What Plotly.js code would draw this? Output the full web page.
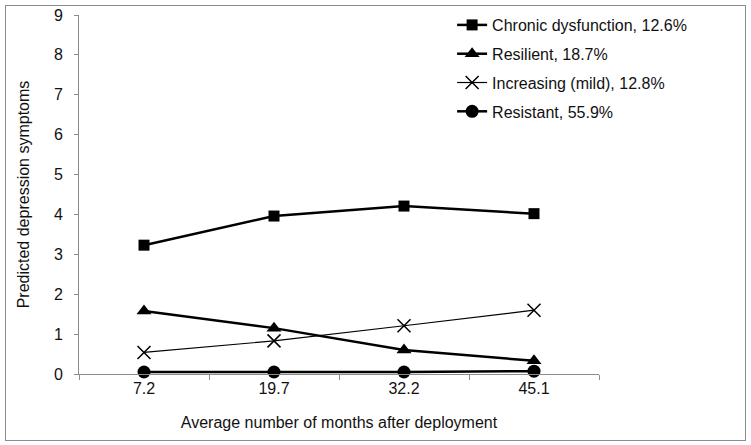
<!DOCTYPE html>
<html>
<head>
<meta charset="utf-8">
<script src="https://cdn.plot.ly/plotly-3.0.1.min.js"></script>
<style>
  body { margin: 0; background: #fff; }
  #frame { position: absolute; left: 5px; top: 5px; width: 739px; height: 434px; border: 1px solid #8c8c8c; pointer-events: none; }
  #myplot { position: absolute; left: 0; top: 0; width: 751px; height: 445px; }
</style>
</head>
<body>
<div id="myplot"></div>
<div id="frame"></div>
<script>
// data
const months = ["7.2", "19.7", "32.2", "45.1"]
const chronic = [3.23, 3.96, 4.21, 4.02]
const resilient = [1.58, 1.15, 0.60, 0.33]
const increasing = [0.54, 0.83, 1.21, 1.60]
const resistant = [0.05, 0.05, 0.05, 0.07]
const seriesNames = ["Chronic dysfunction, 12.6%", "Resilient, 18.7%", "Increasing (mild), 12.8%", "Resistant, 55.9%"]

let fontName = "Liberation Sans, Arial, sans-serif"

function makeTrace(y, name, symbol, size, lineWidth){
    return {
        x: months,
        y: y,
        name: name,
        legendgroup: name,
        mode: "lines+markers",
        type: "scatter",
        line: {color: "#000", width: lineWidth},
        marker: {symbol: symbol, size: size, color: "#000", line: {color: "#000", width: symbol == "x-thin" ? 1.5 : 0}},
        cliponaxis: false
    }
}

let data = [
    makeTrace(chronic, seriesNames[0], "square", 11, 2.5),
    makeTrace(resilient, seriesNames[1], "triangle-up", 13, 2.5),
    makeTrace(increasing, seriesNames[2], "x-thin", 13, 1.2),
    makeTrace(resistant, seriesNames[3], "circle", 13, 2.5)
]

let layout = {
    width: 751,
    height: 445,
    margin: {l: 79, r: 152, t: 15, b: 71, autoexpand: false},
    paper_bgcolor: "#fff",
    plot_bgcolor: "#fff",
    font: {family: fontName, size: 16, color: "#111"},
    showlegend: true,
    legend: {
        xref: "container", yref: "container",
        x: 0.602, xanchor: "left", y: 0.982, yanchor: "top",
        tracegroupgap: 5,
        font: {size: 16},
        bgcolor: "rgba(0,0,0,0)"
    },
    xaxis: {
        type: "category",
        range: [-0.5, 3.5],
        showline: true, linecolor: "#8c8c8c", linewidth: 1,
        ticks: "outside", ticklen: 5, tickcolor: "#8c8c8c",
        tickson: "boundaries",
        showgrid: false, zeroline: false,
        title: {text: "Average number of months after deployment", font: {size: 16}, standoff: 20}
    },
    yaxis: {
        range: [0, 9],
        dtick: 1,
        showline: true, linecolor: "#8c8c8c", linewidth: 1,
        ticks: "outside", ticklen: 4, tickcolor: "#8c8c8c",
        ticklabelstandoff: 8,
        showgrid: false, zeroline: false,
        title: {text: "Predicted depression symptoms", font: {size: 16}, standoff: 20}
    }
}

Plotly.newPlot("myplot", data, layout, {displayModeBar: false, staticPlot: true})
</script>
</body>
</html>
